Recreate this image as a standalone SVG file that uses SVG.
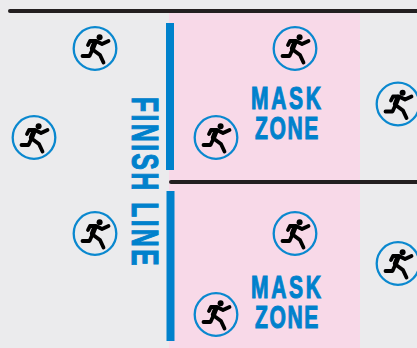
<svg xmlns="http://www.w3.org/2000/svg" width="417" height="348" viewBox="0 0 417 348">
<style>
.label{font-family:"Liberation Sans",Arial,sans-serif;font-weight:700;fill:#0081cc;stroke:#0081cc;stroke-width:1.1}
.ring{fill:none;stroke:#0a88cf;stroke-width:2.3}
.limb{fill:none;stroke:#000;stroke-width:3.8;stroke-linecap:round;stroke-linejoin:round}
.torso{fill:none;stroke:#000;stroke-width:5.2;stroke-linecap:round}
.rule{stroke:#231f20;stroke-width:4;stroke-linecap:round;fill:none}
.bar{fill:#0081cc}
</style>
<defs>
<g id="runner">
<circle class="ring" r="21.3"/>
<circle cx="4.600" cy="-11.300" r="3" fill="#000"/>
<path class="limb" d="M-7-3.500L-5-7.500H1L7-4.500L13.500-7.500"/>
<path class="torso" d="M0-6.500L-2.500 0"/>
<path class="limb" d="M-2.500 1L5 6.500L8.500 14"/>
<path class="limb" d="M-2.500 1L-5.500 7.500H-12.500"/>
</g>
</defs>
<rect id="background" width="417" height="348" fill="#ebebed"/>
<rect id="mask-band" x="169" y="12" width="191" height="336" fill="#f8d9e8"/>
<g id="connectors">
<path class="rule" d="M10 11H417"/>
<path class="rule" d="M171 182H417"/>
</g>
<g id="finish-line">
<rect class="bar" x="166" y="23" width="8" height="147"/>
<rect class="bar" x="166.500" y="191" width="8" height="150"/>
<text class="label" transform="translate(131.500 97) rotate(90) scale(.68 1)" font-size="36" textLength="248" lengthAdjust="spacing">FINISH LINE</text>
</g>
<g id="mask-zone-top">
<text class="label" transform="translate(251 108.500) scale(.68 1)" font-size="31" textLength="103" lengthAdjust="spacing">MASK</text>
<text class="label" transform="translate(255 138.500) scale(.68 1)" font-size="31" textLength="93" lengthAdjust="spacing">ZONE</text>
</g>
<g id="mask-zone-bottom">
<text class="label" transform="translate(251 297.500) scale(.68 1)" font-size="31" textLength="103" lengthAdjust="spacing">MASK</text>
<text class="label" transform="translate(255 327.500) scale(.68 1)" font-size="31" textLength="93" lengthAdjust="spacing">ZONE</text>
</g>
<g id="runner-1"><use href="#runner" x="95" y="48.500"/></g>
<g id="runner-2"><use href="#runner" x="34" y="137.500"/></g>
<g id="runner-3"><use href="#runner" x="216" y="137.500"/></g>
<g id="runner-4"><use href="#runner" x="295" y="48.500"/></g>
<g id="runner-5"><use href="#runner" x="398" y="104"/></g>
<g id="runner-6"><use href="#runner" x="95" y="233.500"/></g>
<g id="runner-7"><use href="#runner" x="295" y="233.500"/></g>
<g id="runner-8"><use href="#runner" x="398" y="263.500"/></g>
<g id="runner-9"><use href="#runner" x="216" y="314.500"/></g>
</svg>
